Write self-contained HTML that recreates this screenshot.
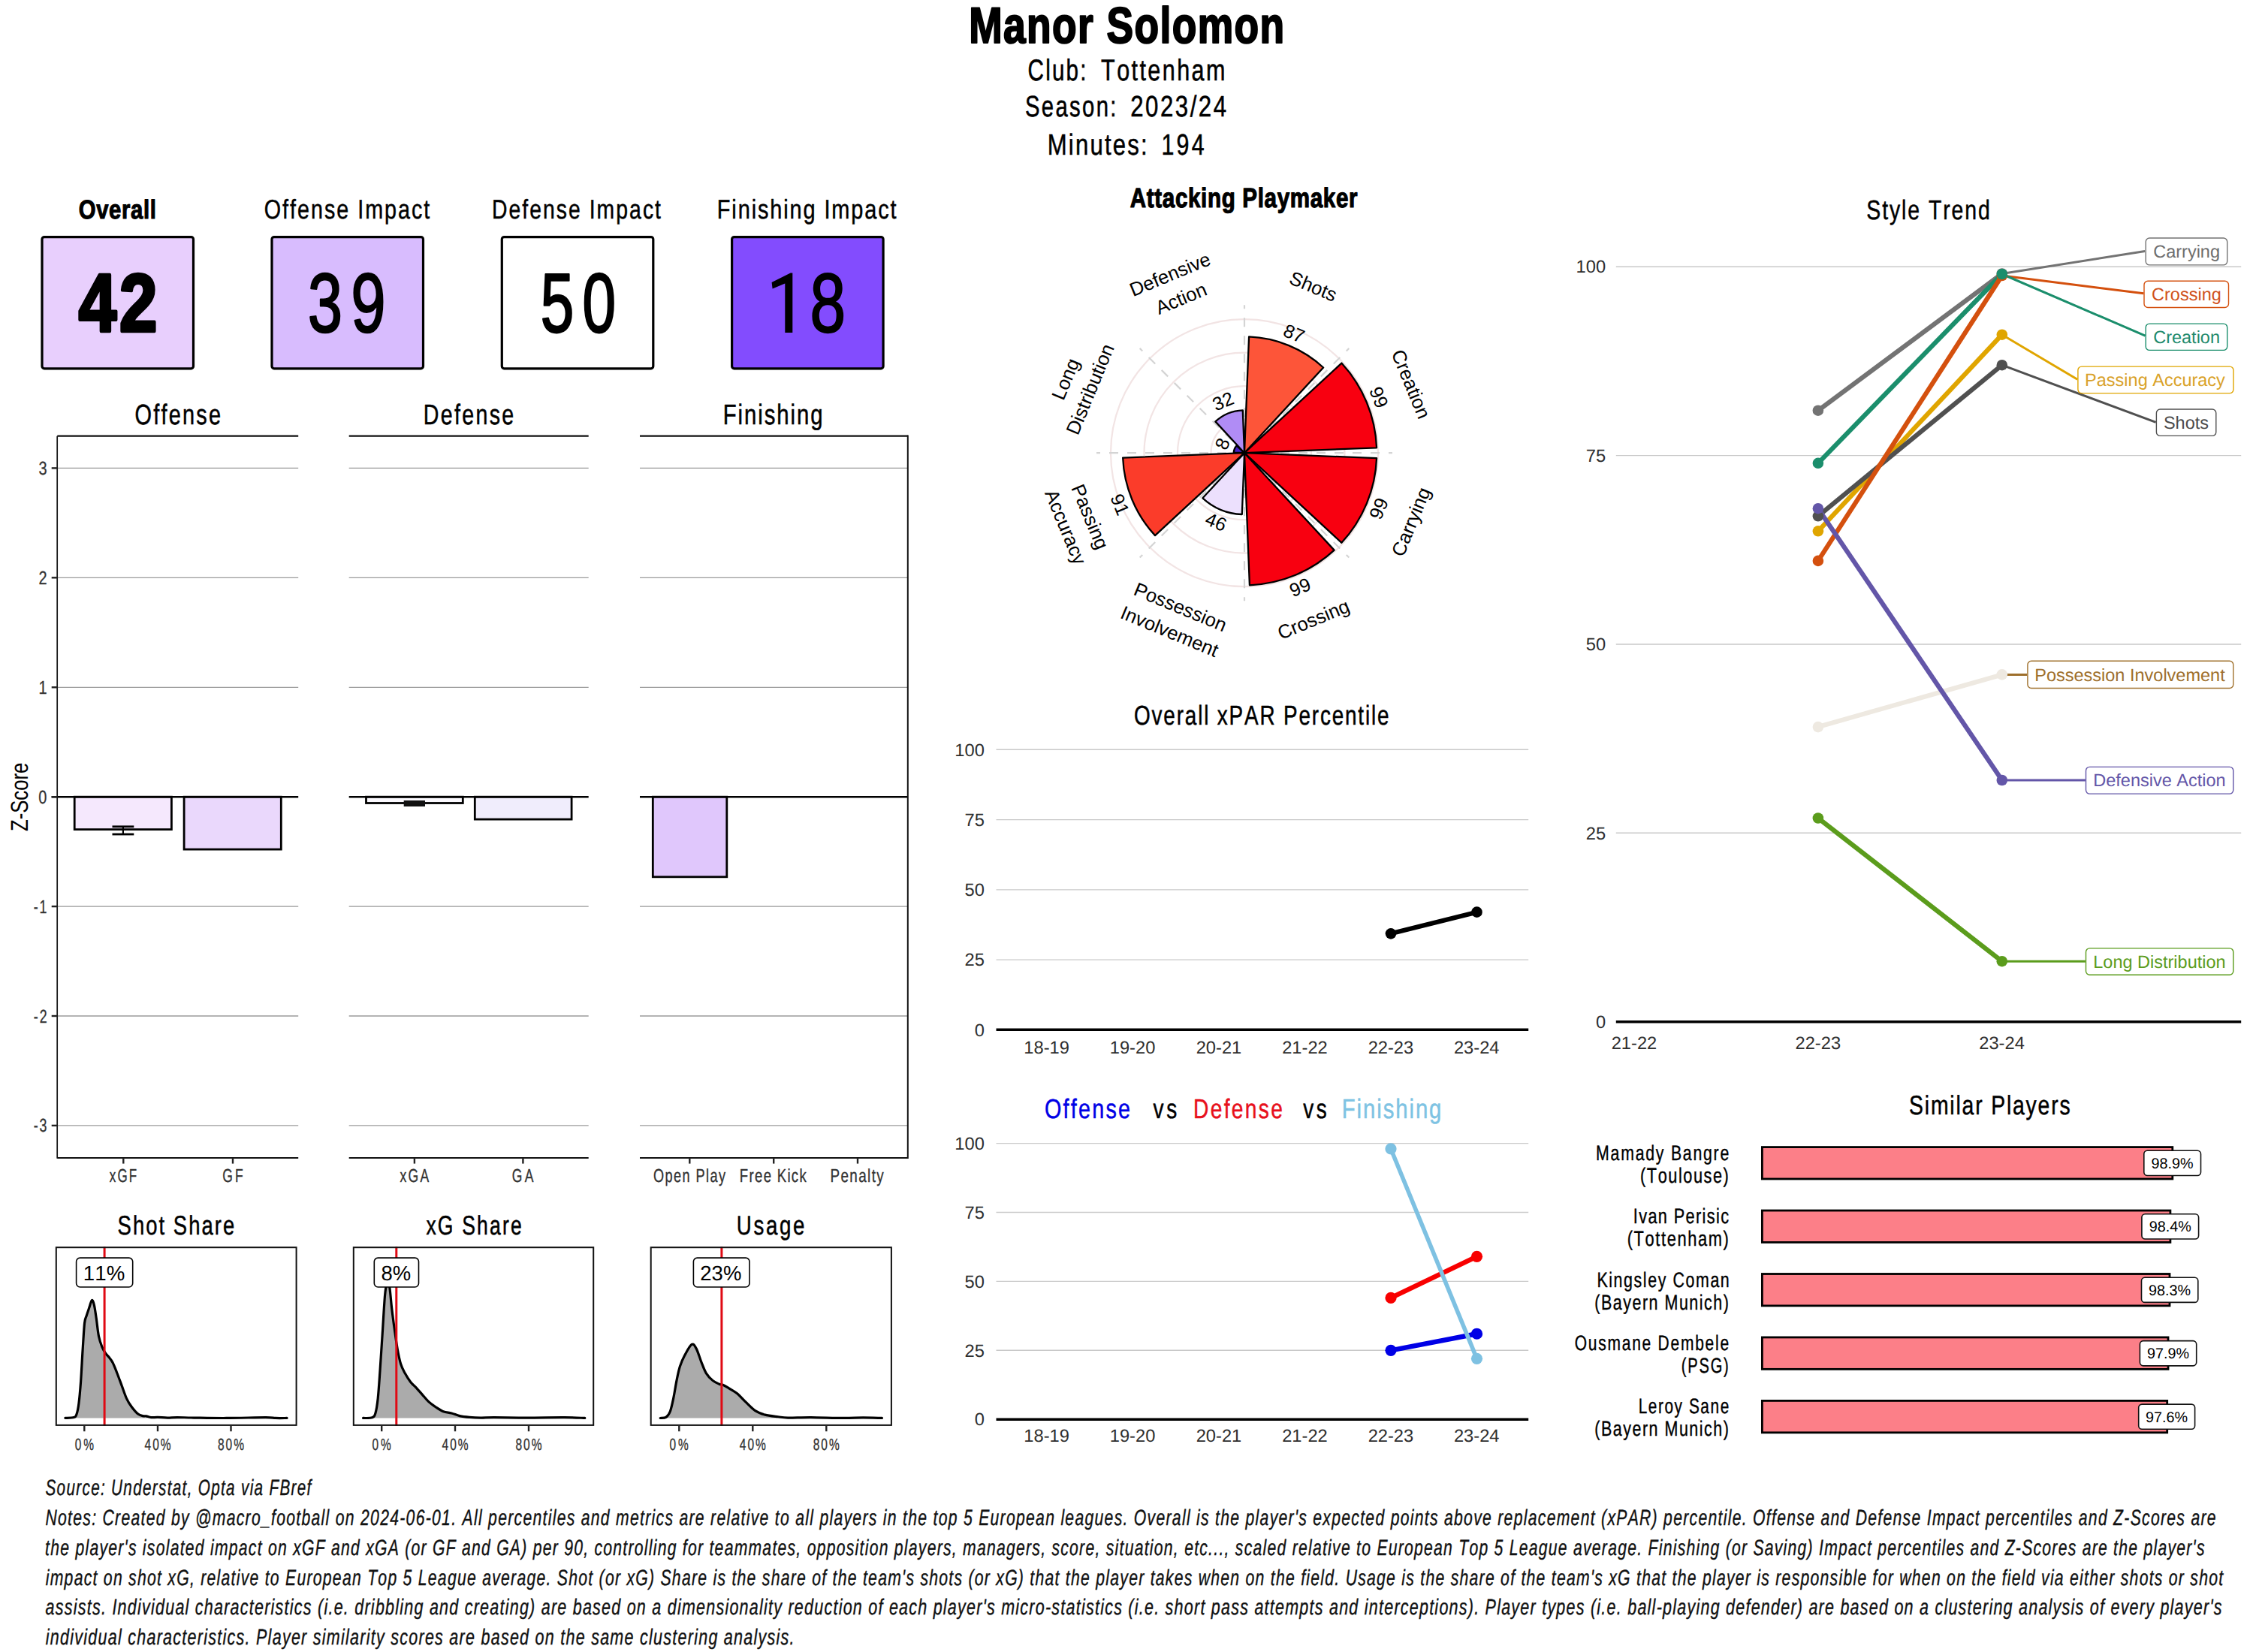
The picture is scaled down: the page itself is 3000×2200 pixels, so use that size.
<!DOCTYPE html>
<html><head><meta charset="utf-8"><style>
html,body{margin:0;padding:0;background:#fff;}
svg{display:block;}
text{font-family:"Liberation Sans",sans-serif;font-kerning:none;white-space:pre;}
</style></head><body>
<svg width="3000" height="2200" viewBox="0 0 3000 2200" text-rendering="geometricPrecision">
<rect x="0" y="0" width="3000" height="2200" fill="#fff"/>
<text transform="scale(0.7912,1)" x="1630.67" y="57.22" font-size="67.49" font-weight="bold" font-style="normal" fill="#000" letter-spacing="1.740"  stroke="#000" stroke-width="2.21" stroke-linejoin="round">Manor Solomon</text>
<text transform="scale(0.7399,1)" x="1849.66" y="106.76" font-size="39.99" font-weight="normal" font-style="normal" fill="#000" letter-spacing="2.989"  stroke="#000" stroke-width="0.57" stroke-linejoin="round">Club:</text>
<text transform="scale(0.7627,1)" x="1922.21" y="106.76" font-size="39.99" font-weight="normal" font-style="normal" fill="#000" letter-spacing="3.198"  stroke="#000" stroke-width="0.56" stroke-linejoin="round">Tottenham</text>
<text transform="scale(0.7454,1)" x="1831.16" y="155.06" font-size="39.27" font-weight="normal" font-style="normal" fill="#000" letter-spacing="3.153"  stroke="#000" stroke-width="0.56" stroke-linejoin="round">Season:</text>
<text transform="scale(0.7949,1)" x="1893.57" y="155.06" font-size="39.27" font-weight="normal" font-style="normal" fill="#000" letter-spacing="3.155"  stroke="#000" stroke-width="0.54" stroke-linejoin="round">2023/24</text>
<text transform="scale(0.7924,1)" x="1760.13" y="205.76" font-size="39.27" font-weight="normal" font-style="normal" fill="#000" letter-spacing="2.759"  stroke="#000" stroke-width="0.54" stroke-linejoin="round">Minutes:</text>
<text transform="scale(0.7744,1)" x="1996.89" y="205.76" font-size="39.27" font-weight="normal" font-style="normal" fill="#000" letter-spacing="4.185"  stroke="#000" stroke-width="0.55" stroke-linejoin="round">194</text>
<rect x="56.00" y="315.60" width="201.50" height="175.20" fill="#E8CFFD" stroke="#000" stroke-width="3.20" rx="3.00" />
<text transform="scale(0.8329,1)" x="125.72" y="291.19" font-size="35.14" font-weight="bold" font-style="normal" fill="#000" letter-spacing="0.800"  stroke="#000" stroke-width="1.12" stroke-linejoin="round">Overall</text>
<text transform="scale(0.8314,1)" x="125.85" y="440.99" font-size="108.99" font-weight="bold" font-style="normal" fill="#000" letter-spacing="4.801"  stroke="#000" stroke-width="4.41" stroke-linejoin="round">42</text>
<rect x="362.00" y="315.60" width="201.50" height="175.20" fill="#D8BCFE" stroke="#000" stroke-width="3.20" rx="3.00" />
<text transform="scale(0.7967,1)" x="441.39" y="291.48" font-size="35.99" font-weight="normal" font-style="normal" fill="#000" letter-spacing="2.539"  stroke="#000" stroke-width="0.49" stroke-linejoin="round">Offense Impact</text>
<text transform="scale(0.7393,1)" x="554.54" y="441.91" font-size="111.66" font-weight="normal" font-style="normal" fill="#000" letter-spacing="15.635"  stroke="#000" stroke-width="2.54" stroke-linejoin="round">39</text>
<rect x="668.30" y="315.60" width="201.50" height="175.20" fill="#FFFFFF" stroke="#000" stroke-width="3.20" rx="3.00" />
<text transform="scale(0.7871,1)" x="832.06" y="291.48" font-size="35.99" font-weight="normal" font-style="normal" fill="#000" letter-spacing="2.610"  stroke="#000" stroke-width="0.50" stroke-linejoin="round">Defense Impact</text>
<text transform="scale(0.7172,1)" x="1003.50" y="441.91" font-size="111.66" font-weight="normal" font-style="normal" fill="#000" letter-spacing="15.731"  stroke="#000" stroke-width="2.58" stroke-linejoin="round">50</text>
<rect x="974.60" y="315.60" width="201.50" height="175.20" fill="#834CFE" stroke="#000" stroke-width="3.20" rx="3.00" />
<text transform="scale(0.8033,1)" x="1188.64" y="291.48" font-size="35.99" font-weight="normal" font-style="normal" fill="#000" letter-spacing="2.353"  stroke="#000" stroke-width="0.49" stroke-linejoin="round">Finishing Impact</text>
<path d="M1055.3,363.4 L1055.3,443 L1045.3,443 L1045.3,377.6 L1028.6,384.4 L1027.6,376 L1052.6,363.4 Z" fill="#000"/>
<text x="1078.48" y="441.91" font-size="111.66" font-weight="normal" font-style="normal" fill="#000" textLength="47.55" lengthAdjust="spacingAndGlyphs"  stroke="#000" stroke-width="2.18" stroke-linejoin="round">8</text>
<line x1="76.30" y1="623.40" x2="397.20" y2="623.40" stroke="#9a9a9a" stroke-width="1.30" />
<line x1="76.30" y1="769.30" x2="397.20" y2="769.30" stroke="#9a9a9a" stroke-width="1.30" />
<line x1="76.30" y1="915.30" x2="397.20" y2="915.30" stroke="#9a9a9a" stroke-width="1.30" />
<line x1="76.30" y1="1207.10" x2="397.20" y2="1207.10" stroke="#9a9a9a" stroke-width="1.30" />
<line x1="76.30" y1="1353.00" x2="397.20" y2="1353.00" stroke="#9a9a9a" stroke-width="1.30" />
<line x1="76.30" y1="1498.90" x2="397.20" y2="1498.90" stroke="#9a9a9a" stroke-width="1.30" />
<line x1="464.70" y1="623.40" x2="783.70" y2="623.40" stroke="#9a9a9a" stroke-width="1.30" />
<line x1="464.70" y1="769.30" x2="783.70" y2="769.30" stroke="#9a9a9a" stroke-width="1.30" />
<line x1="464.70" y1="915.30" x2="783.70" y2="915.30" stroke="#9a9a9a" stroke-width="1.30" />
<line x1="464.70" y1="1207.10" x2="783.70" y2="1207.10" stroke="#9a9a9a" stroke-width="1.30" />
<line x1="464.70" y1="1353.00" x2="783.70" y2="1353.00" stroke="#9a9a9a" stroke-width="1.30" />
<line x1="464.70" y1="1498.90" x2="783.70" y2="1498.90" stroke="#9a9a9a" stroke-width="1.30" />
<line x1="852.00" y1="623.40" x2="1208.80" y2="623.40" stroke="#9a9a9a" stroke-width="1.30" />
<line x1="852.00" y1="769.30" x2="1208.80" y2="769.30" stroke="#9a9a9a" stroke-width="1.30" />
<line x1="852.00" y1="915.30" x2="1208.80" y2="915.30" stroke="#9a9a9a" stroke-width="1.30" />
<line x1="852.00" y1="1207.10" x2="1208.80" y2="1207.10" stroke="#9a9a9a" stroke-width="1.30" />
<line x1="852.00" y1="1353.00" x2="1208.80" y2="1353.00" stroke="#9a9a9a" stroke-width="1.30" />
<line x1="852.00" y1="1498.90" x2="1208.80" y2="1498.90" stroke="#9a9a9a" stroke-width="1.30" />
<line x1="76.30" y1="580.70" x2="397.20" y2="580.70" stroke="#111" stroke-width="2.20" />
<line x1="76.30" y1="1542.00" x2="397.20" y2="1542.00" stroke="#111" stroke-width="1.90" />
<text transform="scale(0.7632,1)" x="235.13" y="565.07" font-size="37.85" font-weight="normal" font-style="normal" fill="#000" letter-spacing="2.933"  stroke="#000" stroke-width="0.53" stroke-linejoin="round">Offense</text>
<line x1="464.70" y1="580.70" x2="783.70" y2="580.70" stroke="#111" stroke-width="2.20" />
<line x1="464.70" y1="1542.00" x2="783.70" y2="1542.00" stroke="#111" stroke-width="1.90" />
<text transform="scale(0.7550,1)" x="746.84" y="565.07" font-size="37.85" font-weight="normal" font-style="normal" fill="#000" letter-spacing="3.095"  stroke="#000" stroke-width="0.53" stroke-linejoin="round">Defense</text>
<line x1="852.00" y1="580.70" x2="1208.80" y2="580.70" stroke="#111" stroke-width="2.20" />
<line x1="852.00" y1="1542.00" x2="1208.80" y2="1542.00" stroke="#111" stroke-width="1.90" />
<text transform="scale(0.7758,1)" x="1240.94" y="565.07" font-size="37.85" font-weight="normal" font-style="normal" fill="#000" letter-spacing="2.487"  stroke="#000" stroke-width="0.52" stroke-linejoin="round">Finishing</text>
<rect x="99.20" y="1061.20" width="129.20" height="43.40" fill="#F5E8FD" stroke="#000" stroke-width="2.80" rx="0.00" />
<rect x="245.10" y="1061.20" width="129.20" height="69.90" fill="#EAD8FC" stroke="#000" stroke-width="2.80" rx="0.00" />
<rect x="487.50" y="1061.20" width="128.80" height="8.30" fill="#FBF9FE" stroke="#000" stroke-width="2.80" rx="0.00" />
<rect x="632.30" y="1061.20" width="128.80" height="29.90" fill="#F0EDFC" stroke="#000" stroke-width="2.80" rx="0.00" />
<rect x="869.30" y="1061.20" width="98.50" height="106.60" fill="#E0C7FC" stroke="#000" stroke-width="2.80" rx="0.00" />
<line x1="149.50" y1="1100.80" x2="178.30" y2="1100.80" stroke="#000" stroke-width="2.80" />
<line x1="149.50" y1="1111.00" x2="178.30" y2="1111.00" stroke="#000" stroke-width="2.80" />
<line x1="163.90" y1="1100.80" x2="163.90" y2="1111.00" stroke="#000" stroke-width="2.20" />
<rect x="537.70" y="1066.00" width="28.30" height="8.00" fill="#111" stroke="none" stroke-width="0.00" rx="0.00" />
<line x1="68.60" y1="1061.20" x2="397.20" y2="1061.20" stroke="#000" stroke-width="2.60" />
<line x1="464.70" y1="1061.20" x2="783.70" y2="1061.20" stroke="#000" stroke-width="2.60" />
<line x1="852.00" y1="1061.20" x2="1208.80" y2="1061.20" stroke="#000" stroke-width="2.60" />
<line x1="76.20" y1="580.70" x2="76.20" y2="1542.80" stroke="#111" stroke-width="1.70" />
<line x1="1208.80" y1="579.60" x2="1208.80" y2="1543.10" stroke="#111" stroke-width="2.00" />
<line x1="68.70" y1="623.40" x2="76.30" y2="623.40" stroke="#222" stroke-width="2.40" />
<text x="51.41" y="631.95" font-size="24.71" font-weight="normal" font-style="normal" fill="#333333" textLength="11.12" lengthAdjust="spacingAndGlyphs"  stroke="#333333" stroke-width="0.30" stroke-linejoin="round">3</text>
<line x1="68.70" y1="769.30" x2="76.30" y2="769.30" stroke="#222" stroke-width="2.40" />
<text x="51.55" y="777.85" font-size="24.71" font-weight="normal" font-style="normal" fill="#333333" textLength="11.10" lengthAdjust="spacingAndGlyphs"  stroke="#333333" stroke-width="0.30" stroke-linejoin="round">2</text>
<line x1="68.70" y1="915.30" x2="76.30" y2="915.30" stroke="#222" stroke-width="2.40" />
<text x="51.54" y="923.85" font-size="24.71" font-weight="normal" font-style="normal" fill="#333333" textLength="11.08" lengthAdjust="spacingAndGlyphs"  stroke="#333333" stroke-width="0.30" stroke-linejoin="round">1</text>
<line x1="68.70" y1="1061.20" x2="76.30" y2="1061.20" stroke="#222" stroke-width="2.40" />
<text x="51.31" y="1069.75" font-size="24.71" font-weight="normal" font-style="normal" fill="#333333" textLength="11.12" lengthAdjust="spacingAndGlyphs"  stroke="#333333" stroke-width="0.30" stroke-linejoin="round">0</text>
<line x1="68.70" y1="1207.10" x2="76.30" y2="1207.10" stroke="#222" stroke-width="2.40" />
<text transform="scale(0.7209,1)" x="62.07" y="1215.65" font-size="24.71" font-weight="normal" font-style="normal" fill="#333333" letter-spacing="2.682"  stroke="#333333" stroke-width="0.35" stroke-linejoin="round">-1</text>
<line x1="68.70" y1="1353.00" x2="76.30" y2="1353.00" stroke="#222" stroke-width="2.40" />
<text transform="scale(0.7209,1)" x="62.11" y="1361.55" font-size="24.71" font-weight="normal" font-style="normal" fill="#333333" letter-spacing="2.677"  stroke="#333333" stroke-width="0.35" stroke-linejoin="round">-2</text>
<line x1="68.70" y1="1498.90" x2="76.30" y2="1498.90" stroke="#222" stroke-width="2.40" />
<text transform="scale(0.7210,1)" x="61.92" y="1507.45" font-size="24.71" font-weight="normal" font-style="normal" fill="#333333" letter-spacing="2.698"  stroke="#333333" stroke-width="0.35" stroke-linejoin="round">-3</text>
<line x1="164.30" y1="1542.00" x2="164.30" y2="1549.60" stroke="#222" stroke-width="2.40" />
<line x1="310.00" y1="1542.00" x2="310.00" y2="1549.60" stroke="#222" stroke-width="2.40" />
<line x1="551.90" y1="1542.00" x2="551.90" y2="1549.60" stroke="#222" stroke-width="2.40" />
<line x1="696.40" y1="1542.00" x2="696.40" y2="1549.60" stroke="#222" stroke-width="2.40" />
<line x1="918.30" y1="1542.00" x2="918.30" y2="1549.60" stroke="#222" stroke-width="2.40" />
<line x1="1030.20" y1="1542.00" x2="1030.20" y2="1549.60" stroke="#222" stroke-width="2.40" />
<line x1="1142.00" y1="1542.00" x2="1142.00" y2="1549.60" stroke="#222" stroke-width="2.40" />
<text transform="scale(0.6881,1)" x="211.83" y="1574.05" font-size="24.71" font-weight="normal" font-style="normal" fill="#333333" letter-spacing="3.096"  stroke="#333333" stroke-width="0.36" stroke-linejoin="round">xGF</text>
<text transform="scale(0.7082,1)" x="418.26" y="1574.05" font-size="24.71" font-weight="normal" font-style="normal" fill="#333333" letter-spacing="4.375"  stroke="#333333" stroke-width="0.36" stroke-linejoin="round">GF</text>
<text transform="scale(0.7109,1)" x="748.95" y="1574.05" font-size="24.71" font-weight="normal" font-style="normal" fill="#333333" letter-spacing="3.254"  stroke="#333333" stroke-width="0.36" stroke-linejoin="round">xGA</text>
<text transform="scale(0.7088,1)" x="961.78" y="1574.05" font-size="24.71" font-weight="normal" font-style="normal" fill="#333333" letter-spacing="4.692"  stroke="#333333" stroke-width="0.36" stroke-linejoin="round">GA</text>
<text transform="scale(0.7338,1)" x="1185.68" y="1574.05" font-size="24.71" font-weight="normal" font-style="normal" fill="#333333" letter-spacing="1.946"  stroke="#333333" stroke-width="0.35" stroke-linejoin="round">Open Play</text>
<text transform="scale(0.7514,1)" x="1310.70" y="1574.05" font-size="24.71" font-weight="normal" font-style="normal" fill="#333333" letter-spacing="1.745"  stroke="#333333" stroke-width="0.35" stroke-linejoin="round">Free Kick</text>
<text transform="scale(0.7634,1)" x="1448.08" y="1574.05" font-size="24.71" font-weight="normal" font-style="normal" fill="#333333" letter-spacing="1.826"  stroke="#333333" stroke-width="0.34" stroke-linejoin="round">Penalty</text>
<g transform="translate(37.3,1061.5) rotate(-90)">
<text x="-45.57" y="0" font-size="32.41" textLength="91.46" lengthAdjust="spacingAndGlyphs">Z-Score</text>
</g>
<path d="M86.84,1888.47 C88.77,1888.33 95.85,1888.51 98.39,1887.60 C100.93,1886.70 101.00,1886.15 102.09,1883.03 C103.18,1879.91 104.02,1875.95 104.92,1868.87 C105.83,1861.79 106.67,1852.53 107.54,1840.54 C108.41,1828.56 109.32,1810.04 110.15,1796.97 C110.99,1783.90 111.71,1769.56 112.55,1762.11 C113.38,1754.67 114.18,1755.58 115.16,1752.31 C116.14,1749.04 117.23,1745.95 118.43,1742.51 C119.63,1739.06 121.19,1732.34 122.35,1731.61 C123.51,1730.89 124.42,1734.15 125.40,1738.15 C126.38,1742.14 127.22,1748.68 128.24,1755.58 C129.25,1762.48 130.23,1773.19 131.50,1779.54 C132.77,1785.90 134.41,1790.00 135.86,1793.70 C137.31,1797.41 138.77,1799.59 140.22,1801.76 C141.67,1803.94 142.94,1804.67 144.58,1806.78 C146.21,1808.88 148.21,1810.95 150.02,1814.40 C151.84,1817.85 153.47,1822.39 155.47,1827.47 C157.47,1832.56 159.83,1839.09 162.00,1844.90 C164.18,1850.71 166.36,1857.61 168.54,1862.33 C170.72,1867.05 172.53,1869.77 175.08,1873.22 C177.62,1876.67 181.25,1880.96 183.79,1883.03 C186.33,1885.10 188.51,1885.17 190.33,1885.64 C192.14,1886.11 192.87,1885.53 194.68,1885.86 C196.50,1886.19 198.68,1887.35 201.22,1887.60 C203.76,1887.86 206.30,1887.31 209.93,1887.39 C213.57,1887.46 218.65,1888.00 223.01,1888.04 C227.36,1888.08 230.27,1887.60 236.08,1887.60 C241.89,1887.60 246.97,1887.89 257.86,1888.04 C268.76,1888.18 285.46,1888.55 301.44,1888.47 C317.41,1888.40 342.83,1887.60 353.73,1887.60 C364.62,1887.60 362.08,1888.33 366.80,1888.47 C371.52,1888.62 379.51,1888.47 382.05,1888.47 L382.05,1888.50 L86.84,1888.50 Z" fill="#ABABAB" stroke="none"/>
<path d="M86.84,1888.47 C88.77,1888.33 95.85,1888.51 98.39,1887.60 C100.93,1886.70 101.00,1886.15 102.09,1883.03 C103.18,1879.91 104.02,1875.95 104.92,1868.87 C105.83,1861.79 106.67,1852.53 107.54,1840.54 C108.41,1828.56 109.32,1810.04 110.15,1796.97 C110.99,1783.90 111.71,1769.56 112.55,1762.11 C113.38,1754.67 114.18,1755.58 115.16,1752.31 C116.14,1749.04 117.23,1745.95 118.43,1742.51 C119.63,1739.06 121.19,1732.34 122.35,1731.61 C123.51,1730.89 124.42,1734.15 125.40,1738.15 C126.38,1742.14 127.22,1748.68 128.24,1755.58 C129.25,1762.48 130.23,1773.19 131.50,1779.54 C132.77,1785.90 134.41,1790.00 135.86,1793.70 C137.31,1797.41 138.77,1799.59 140.22,1801.76 C141.67,1803.94 142.94,1804.67 144.58,1806.78 C146.21,1808.88 148.21,1810.95 150.02,1814.40 C151.84,1817.85 153.47,1822.39 155.47,1827.47 C157.47,1832.56 159.83,1839.09 162.00,1844.90 C164.18,1850.71 166.36,1857.61 168.54,1862.33 C170.72,1867.05 172.53,1869.77 175.08,1873.22 C177.62,1876.67 181.25,1880.96 183.79,1883.03 C186.33,1885.10 188.51,1885.17 190.33,1885.64 C192.14,1886.11 192.87,1885.53 194.68,1885.86 C196.50,1886.19 198.68,1887.35 201.22,1887.60 C203.76,1887.86 206.30,1887.31 209.93,1887.39 C213.57,1887.46 218.65,1888.00 223.01,1888.04 C227.36,1888.08 230.27,1887.60 236.08,1887.60 C241.89,1887.60 246.97,1887.89 257.86,1888.04 C268.76,1888.18 285.46,1888.55 301.44,1888.47 C317.41,1888.40 342.83,1887.60 353.73,1887.60 C364.62,1887.60 362.08,1888.33 366.80,1888.47 C371.52,1888.62 379.51,1888.47 382.05,1888.47" fill="none" stroke="#000" stroke-width="3.2" stroke-linejoin="round" stroke-linecap="round"/>
<line x1="139.10" y1="1660.20" x2="139.10" y2="1898.90" stroke="#E00A14" stroke-width="3.00" />
<rect x="101.60" y="1675.10" width="75.10" height="38.90" fill="#fff" stroke="#000" stroke-width="1.60" rx="5.00" />
<text x="110.89" y="1705.00" font-size="27.62" font-weight="normal" font-style="normal" fill="#000" textLength="55.39" lengthAdjust="spacingAndGlyphs" >11%</text>
<rect x="74.80" y="1661.20" width="319.80" height="236.70" fill="none" stroke="#111" stroke-width="2.00" rx="0.00" />
<text transform="scale(0.7683,1)" x="203.79" y="1644.28" font-size="35.70" font-weight="normal" font-style="normal" fill="#000" letter-spacing="2.658"  stroke="#000" stroke-width="0.50" stroke-linejoin="round">Shot Share</text>
<line x1="112.30" y1="1898.90" x2="112.30" y2="1906.20" stroke="#222" stroke-width="2.40" />
<text transform="scale(0.7092,1)" x="140.51" y="1930.85" font-size="21.80" font-weight="normal" font-style="normal" fill="#333333" letter-spacing="4.075"  stroke="#333333" stroke-width="0.36" stroke-linejoin="round">0%</text>
<line x1="210.00" y1="1898.90" x2="210.00" y2="1906.20" stroke="#222" stroke-width="2.40" />
<text transform="scale(0.7118,1)" x="270.44" y="1930.85" font-size="21.80" font-weight="normal" font-style="normal" fill="#333333" letter-spacing="2.888"  stroke="#333333" stroke-width="0.36" stroke-linejoin="round">40%</text>
<line x1="307.50" y1="1898.90" x2="307.50" y2="1906.20" stroke="#222" stroke-width="2.40" />
<text transform="scale(0.7118,1)" x="407.25" y="1930.85" font-size="21.80" font-weight="normal" font-style="normal" fill="#333333" letter-spacing="2.858"  stroke="#333333" stroke-width="0.36" stroke-linejoin="round">80%</text>
<path d="M483.57,1888.47 C485.57,1888.37 492.83,1888.91 495.56,1887.82 C498.28,1886.73 498.64,1886.19 499.91,1881.94 C501.18,1877.69 502.16,1871.77 503.18,1862.33 C504.20,1852.89 505.00,1839.82 506.01,1825.29 C507.03,1810.77 508.19,1791.89 509.28,1775.19 C510.37,1758.48 511.57,1735.97 512.55,1725.08 C513.53,1714.18 514.18,1712.00 515.16,1709.83 C516.14,1707.65 517.34,1706.56 518.43,1712.00 C519.52,1717.45 520.54,1732.70 521.70,1742.51 C522.86,1752.31 524.13,1761.75 525.40,1770.83 C526.67,1779.91 527.94,1789.35 529.32,1796.97 C530.70,1804.60 532.05,1811.31 533.68,1816.58 C535.32,1821.84 536.95,1824.57 539.13,1828.56 C541.31,1832.56 544.39,1837.46 546.75,1840.54 C549.11,1843.63 550.75,1844.36 553.29,1847.08 C555.83,1849.80 559.10,1853.62 562.00,1856.88 C564.91,1860.15 567.81,1863.97 570.72,1866.69 C573.62,1869.41 576.17,1871.05 579.43,1873.22 C582.70,1875.40 586.70,1878.31 590.33,1879.76 C593.96,1881.21 597.59,1880.96 601.22,1881.94 C604.85,1882.92 608.12,1884.73 612.11,1885.64 C616.11,1886.55 620.46,1886.99 625.19,1887.39 C629.91,1887.79 634.99,1888.00 640.44,1888.04 C645.88,1888.08 647.70,1887.60 657.86,1887.60 C668.03,1887.60 685.82,1888.04 701.44,1888.04 C717.05,1888.04 738.66,1887.53 751.55,1887.60 C764.44,1887.68 774.24,1888.33 778.78,1888.47 L778.78,1888.50 L483.57,1888.50 Z" fill="#ABABAB" stroke="none"/>
<path d="M483.57,1888.47 C485.57,1888.37 492.83,1888.91 495.56,1887.82 C498.28,1886.73 498.64,1886.19 499.91,1881.94 C501.18,1877.69 502.16,1871.77 503.18,1862.33 C504.20,1852.89 505.00,1839.82 506.01,1825.29 C507.03,1810.77 508.19,1791.89 509.28,1775.19 C510.37,1758.48 511.57,1735.97 512.55,1725.08 C513.53,1714.18 514.18,1712.00 515.16,1709.83 C516.14,1707.65 517.34,1706.56 518.43,1712.00 C519.52,1717.45 520.54,1732.70 521.70,1742.51 C522.86,1752.31 524.13,1761.75 525.40,1770.83 C526.67,1779.91 527.94,1789.35 529.32,1796.97 C530.70,1804.60 532.05,1811.31 533.68,1816.58 C535.32,1821.84 536.95,1824.57 539.13,1828.56 C541.31,1832.56 544.39,1837.46 546.75,1840.54 C549.11,1843.63 550.75,1844.36 553.29,1847.08 C555.83,1849.80 559.10,1853.62 562.00,1856.88 C564.91,1860.15 567.81,1863.97 570.72,1866.69 C573.62,1869.41 576.17,1871.05 579.43,1873.22 C582.70,1875.40 586.70,1878.31 590.33,1879.76 C593.96,1881.21 597.59,1880.96 601.22,1881.94 C604.85,1882.92 608.12,1884.73 612.11,1885.64 C616.11,1886.55 620.46,1886.99 625.19,1887.39 C629.91,1887.79 634.99,1888.00 640.44,1888.04 C645.88,1888.08 647.70,1887.60 657.86,1887.60 C668.03,1887.60 685.82,1888.04 701.44,1888.04 C717.05,1888.04 738.66,1887.53 751.55,1887.60 C764.44,1887.68 774.24,1888.33 778.78,1888.47" fill="none" stroke="#000" stroke-width="3.2" stroke-linejoin="round" stroke-linecap="round"/>
<line x1="527.80" y1="1660.20" x2="527.80" y2="1898.90" stroke="#E00A14" stroke-width="3.00" />
<rect x="498.30" y="1675.10" width="59.20" height="38.90" fill="#fff" stroke="#000" stroke-width="1.60" rx="5.00" />
<text x="507.41" y="1705.00" font-size="27.62" font-weight="normal" font-style="normal" fill="#000" textLength="39.67" lengthAdjust="spacingAndGlyphs" >8%</text>
<rect x="470.80" y="1661.20" width="319.40" height="236.70" fill="none" stroke="#111" stroke-width="2.00" rx="0.00" />
<text transform="scale(0.7442,1)" x="762.45" y="1644.28" font-size="35.70" font-weight="normal" font-style="normal" fill="#000" letter-spacing="2.899"  stroke="#000" stroke-width="0.51" stroke-linejoin="round">xG Share</text>
<line x1="508.20" y1="1898.90" x2="508.20" y2="1906.20" stroke="#222" stroke-width="2.40" />
<text transform="scale(0.7092,1)" x="698.71" y="1930.85" font-size="21.80" font-weight="normal" font-style="normal" fill="#333333" letter-spacing="4.075"  stroke="#333333" stroke-width="0.36" stroke-linejoin="round">0%</text>
<line x1="606.00" y1="1898.90" x2="606.00" y2="1906.20" stroke="#222" stroke-width="2.40" />
<text transform="scale(0.7118,1)" x="826.74" y="1930.85" font-size="21.80" font-weight="normal" font-style="normal" fill="#333333" letter-spacing="2.888"  stroke="#333333" stroke-width="0.36" stroke-linejoin="round">40%</text>
<line x1="704.00" y1="1898.90" x2="704.00" y2="1906.20" stroke="#222" stroke-width="2.40" />
<text transform="scale(0.7118,1)" x="964.31" y="1930.85" font-size="21.80" font-weight="normal" font-style="normal" fill="#333333" letter-spacing="2.858"  stroke="#333333" stroke-width="0.36" stroke-linejoin="round">80%</text>
<path d="M879.22,1888.47 C880.49,1888.29 884.66,1888.84 886.84,1887.39 C889.02,1885.93 890.65,1883.94 892.29,1879.76 C893.92,1875.58 895.19,1869.23 896.64,1862.33 C898.10,1855.43 899.55,1845.45 901.00,1838.37 C902.45,1831.29 903.54,1825.48 905.36,1819.85 C907.18,1814.22 909.28,1809.50 911.90,1804.60 C914.51,1799.69 918.50,1791.89 921.05,1790.44 C923.59,1788.98 925.04,1792.07 927.15,1795.88 C929.25,1799.69 931.50,1807.86 933.68,1813.31 C935.86,1818.76 937.68,1824.39 940.22,1828.56 C942.76,1832.74 946.03,1835.93 948.93,1838.37 C951.84,1840.80 955.29,1842.14 957.65,1843.16 C960.01,1844.18 960.92,1843.52 963.09,1844.47 C965.27,1845.41 967.63,1846.94 970.72,1848.82 C973.81,1850.71 977.98,1852.82 981.61,1855.80 C985.24,1858.77 988.51,1862.88 992.51,1866.69 C996.50,1870.50 1001.22,1875.77 1005.58,1878.67 C1009.93,1881.58 1013.57,1882.77 1018.65,1884.12 C1023.73,1885.46 1030.99,1886.08 1036.08,1886.73 C1041.16,1887.39 1041.89,1887.89 1049.15,1888.04 C1056.41,1888.18 1067.31,1887.53 1079.65,1887.60 C1092.00,1887.68 1111.60,1888.44 1123.22,1888.47 C1134.84,1888.51 1140.84,1887.82 1149.37,1887.82 C1157.90,1887.82 1170.25,1888.37 1174.42,1888.47 L1174.42,1888.50 L879.22,1888.50 Z" fill="#ABABAB" stroke="none"/>
<path d="M879.22,1888.47 C880.49,1888.29 884.66,1888.84 886.84,1887.39 C889.02,1885.93 890.65,1883.94 892.29,1879.76 C893.92,1875.58 895.19,1869.23 896.64,1862.33 C898.10,1855.43 899.55,1845.45 901.00,1838.37 C902.45,1831.29 903.54,1825.48 905.36,1819.85 C907.18,1814.22 909.28,1809.50 911.90,1804.60 C914.51,1799.69 918.50,1791.89 921.05,1790.44 C923.59,1788.98 925.04,1792.07 927.15,1795.88 C929.25,1799.69 931.50,1807.86 933.68,1813.31 C935.86,1818.76 937.68,1824.39 940.22,1828.56 C942.76,1832.74 946.03,1835.93 948.93,1838.37 C951.84,1840.80 955.29,1842.14 957.65,1843.16 C960.01,1844.18 960.92,1843.52 963.09,1844.47 C965.27,1845.41 967.63,1846.94 970.72,1848.82 C973.81,1850.71 977.98,1852.82 981.61,1855.80 C985.24,1858.77 988.51,1862.88 992.51,1866.69 C996.50,1870.50 1001.22,1875.77 1005.58,1878.67 C1009.93,1881.58 1013.57,1882.77 1018.65,1884.12 C1023.73,1885.46 1030.99,1886.08 1036.08,1886.73 C1041.16,1887.39 1041.89,1887.89 1049.15,1888.04 C1056.41,1888.18 1067.31,1887.53 1079.65,1887.60 C1092.00,1887.68 1111.60,1888.44 1123.22,1888.47 C1134.84,1888.51 1140.84,1887.82 1149.37,1887.82 C1157.90,1887.82 1170.25,1888.37 1174.42,1888.47" fill="none" stroke="#000" stroke-width="3.2" stroke-linejoin="round" stroke-linecap="round"/>
<line x1="960.90" y1="1660.20" x2="960.90" y2="1898.90" stroke="#E00A14" stroke-width="3.00" />
<rect x="923.40" y="1675.10" width="74.60" height="38.90" fill="#fff" stroke="#000" stroke-width="1.60" rx="5.00" />
<text x="932.32" y="1705.00" font-size="27.62" font-weight="normal" font-style="normal" fill="#000" textLength="55.06" lengthAdjust="spacingAndGlyphs" >23%</text>
<rect x="866.70" y="1661.20" width="320.20" height="236.70" fill="none" stroke="#111" stroke-width="2.00" rx="0.00" />
<text transform="scale(0.7776,1)" x="1261.25" y="1644.28" font-size="35.70" font-weight="normal" font-style="normal" fill="#000" letter-spacing="3.370"  stroke="#000" stroke-width="0.49" stroke-linejoin="round">Usage</text>
<line x1="904.30" y1="1898.90" x2="904.30" y2="1906.20" stroke="#222" stroke-width="2.40" />
<text transform="scale(0.7092,1)" x="1257.19" y="1930.85" font-size="21.80" font-weight="normal" font-style="normal" fill="#333333" letter-spacing="4.075"  stroke="#333333" stroke-width="0.36" stroke-linejoin="round">0%</text>
<line x1="1002.30" y1="1898.90" x2="1002.30" y2="1906.20" stroke="#222" stroke-width="2.40" />
<text transform="scale(0.7118,1)" x="1383.46" y="1930.85" font-size="21.80" font-weight="normal" font-style="normal" fill="#333333" letter-spacing="2.888"  stroke="#333333" stroke-width="0.36" stroke-linejoin="round">40%</text>
<line x1="1100.30" y1="1898.90" x2="1100.30" y2="1906.20" stroke="#222" stroke-width="2.40" />
<text transform="scale(0.7118,1)" x="1521.08" y="1930.85" font-size="21.80" font-weight="normal" font-style="normal" fill="#333333" letter-spacing="2.858"  stroke="#333333" stroke-width="0.36" stroke-linejoin="round">80%</text>
<text transform="scale(0.8093,1)" x="1859.35" y="276.27" font-size="36.53" font-weight="bold" font-style="normal" fill="#000" letter-spacing="0.829"  stroke="#000" stroke-width="1.19" stroke-linejoin="round">Attacking Playmaker</text>
<circle cx="1657.00" cy="603.20" r="44.50" fill="none" stroke="#F2E4E4" stroke-width="2.2"/>
<circle cx="1657.00" cy="603.20" r="89.00" fill="none" stroke="#F2E4E4" stroke-width="2.2"/>
<circle cx="1657.00" cy="603.20" r="133.50" fill="none" stroke="#F2E4E4" stroke-width="2.2"/>
<circle cx="1657.00" cy="603.20" r="178.00" fill="none" stroke="#F2E4E4" stroke-width="2.2"/>
<line x1="1657.00" y1="603.20" x2="1657.00" y2="406.20" stroke="#D4D4D4" stroke-width="2.2" stroke-dasharray="12,12"/>
<line x1="1657.00" y1="603.20" x2="1796.30" y2="463.90" stroke="#D4D4D4" stroke-width="2.2" stroke-dasharray="12,12"/>
<line x1="1657.00" y1="603.20" x2="1854.00" y2="603.20" stroke="#D4D4D4" stroke-width="2.2" stroke-dasharray="12,12"/>
<line x1="1657.00" y1="603.20" x2="1796.30" y2="742.50" stroke="#D4D4D4" stroke-width="2.2" stroke-dasharray="12,12"/>
<line x1="1657.00" y1="603.20" x2="1657.00" y2="800.20" stroke="#D4D4D4" stroke-width="2.2" stroke-dasharray="12,12"/>
<line x1="1657.00" y1="603.20" x2="1517.70" y2="742.50" stroke="#D4D4D4" stroke-width="2.2" stroke-dasharray="12,12"/>
<line x1="1657.00" y1="603.20" x2="1460.00" y2="603.20" stroke="#D4D4D4" stroke-width="2.2" stroke-dasharray="12,12"/>
<line x1="1657.00" y1="603.20" x2="1517.70" y2="463.90" stroke="#D4D4D4" stroke-width="2.2" stroke-dasharray="12,12"/>
<path d="M1657.00,603.20 L1663.08,448.46 A154.86,154.86 0 0 1 1762.12,489.48 Z" fill="#FD5539" stroke="#000" stroke-width="2.3" stroke-linejoin="round"/>
<path d="M1657.00,603.20 L1786.40,483.58 A176.22,176.22 0 0 1 1833.08,596.28 Z" fill="#F80010" stroke="#000" stroke-width="2.3" stroke-linejoin="round"/>
<path d="M1657.00,603.20 L1833.08,610.12 A176.22,176.22 0 0 1 1786.40,722.82 Z" fill="#F80010" stroke="#000" stroke-width="2.3" stroke-linejoin="round"/>
<path d="M1657.00,603.20 L1776.62,732.60 A176.22,176.22 0 0 1 1663.92,779.28 Z" fill="#F80010" stroke="#000" stroke-width="2.3" stroke-linejoin="round"/>
<path d="M1657.00,603.20 L1653.79,685.02 A81.88,81.88 0 0 1 1601.42,663.33 Z" fill="#ECE0FD" stroke="#000" stroke-width="2.3" stroke-linejoin="round"/>
<path d="M1657.00,603.20 L1538.05,713.15 A161.98,161.98 0 0 1 1495.14,609.56 Z" fill="#FB3C2A" stroke="#000" stroke-width="2.3" stroke-linejoin="round"/>
<path d="M1657.00,603.20 L1642.77,602.64 A14.24,14.24 0 0 1 1646.54,593.53 Z" fill="#4A22C2" stroke="#000" stroke-width="2.3" stroke-linejoin="round"/>
<path d="M1657.00,603.20 L1618.34,561.37 A56.96,56.96 0 0 1 1654.76,546.28 Z" fill="#B08CF5" stroke="#000" stroke-width="2.3" stroke-linejoin="round"/>
<g transform="translate(1722.96,443.96) rotate(22.50)">
<text x="-13.82" y="8.60" font-size="25.00" fill="#000" textLength="27.81" lengthAdjust="spacingAndGlyphs">87</text>
</g>
<g transform="translate(1748.84,381.47) rotate(22.50)">
<text x="-32.85" y="8.81" font-size="25.60" fill="#000" textLength="65.46" lengthAdjust="spacingAndGlyphs">Shots</text>
</g>
<g transform="translate(1835.97,529.07) rotate(67.50)">
<text x="-13.90" y="8.60" font-size="25.00" fill="#000" textLength="27.81" lengthAdjust="spacingAndGlyphs">99</text>
</g>
<g transform="translate(1878.73,511.36) rotate(67.50)">
<text x="-48.20" y="8.81" font-size="25.60" fill="#000" textLength="96.76" lengthAdjust="spacingAndGlyphs">Creation</text>
</g>
<g transform="translate(1835.97,677.33) rotate(-67.50)">
<text x="-13.90" y="8.60" font-size="25.00" fill="#000" textLength="27.81" lengthAdjust="spacingAndGlyphs">99</text>
</g>
<g transform="translate(1878.73,695.04) rotate(-67.50)">
<text x="-48.19" y="8.81" font-size="25.60" fill="#000" textLength="96.74" lengthAdjust="spacingAndGlyphs">Carrying</text>
</g>
<g transform="translate(1731.13,782.17) rotate(-22.50)">
<text x="-13.90" y="8.60" font-size="25.00" fill="#000" textLength="27.81" lengthAdjust="spacingAndGlyphs">99</text>
</g>
<g transform="translate(1748.84,824.93) rotate(-22.50)">
<text x="-50.33" y="8.81" font-size="25.60" fill="#000" textLength="101.01" lengthAdjust="spacingAndGlyphs">Crossing</text>
</g>
<g transform="translate(1618.97,695.02) rotate(22.50)">
<text x="-13.64" y="8.60" font-size="25.00" fill="#000" textLength="27.81" lengthAdjust="spacingAndGlyphs">46</text>
</g>
<g transform="translate(1565.16,824.93) rotate(22.50)">
<text x="-65.67" y="-8.86" font-size="25.60" fill="#000" textLength="130.91" lengthAdjust="spacingAndGlyphs">Possession</text>
<text x="-70.10" y="26.47" font-size="25.60" fill="#000" textLength="138.03" lengthAdjust="spacingAndGlyphs">Involvement</text>
</g>
<g transform="translate(1491.18,671.88) rotate(67.50)">
<text x="-13.88" y="8.60" font-size="25.00" fill="#000" textLength="27.81" lengthAdjust="spacingAndGlyphs">91</text>
</g>
<g transform="translate(1435.27,695.04) rotate(67.50)">
<text x="-45.76" y="-8.86" font-size="25.60" fill="#000" textLength="91.08" lengthAdjust="spacingAndGlyphs">Passing</text>
<text x="-52.64" y="26.47" font-size="25.60" fill="#000" textLength="105.28" lengthAdjust="spacingAndGlyphs">Accuracy</text>
</g>
<g transform="translate(1627.68,591.05) rotate(292.50)">
<text x="-6.95" y="8.60" font-size="25.00" fill="#000" textLength="13.90" lengthAdjust="spacingAndGlyphs">8</text>
</g>
<g transform="translate(1435.27,511.36) rotate(292.50)">
<text x="-28.70" y="-8.86" font-size="25.60" fill="#000" textLength="56.95" lengthAdjust="spacingAndGlyphs">Long</text>
<text x="-64.24" y="26.47" font-size="25.60" fill="#000" textLength="128.05" lengthAdjust="spacingAndGlyphs">Distribution</text>
</g>
<g transform="translate(1628.51,534.41) rotate(337.50)">
<text x="-13.75" y="8.60" font-size="25.00" fill="#000" textLength="27.81" lengthAdjust="spacingAndGlyphs">32</text>
</g>
<g transform="translate(1565.16,381.47) rotate(337.50)">
<text x="-57.40" y="-8.86" font-size="25.60" fill="#000" textLength="113.84" lengthAdjust="spacingAndGlyphs">Defensive</text>
<text x="-34.77" y="26.47" font-size="25.60" fill="#000" textLength="71.15" lengthAdjust="spacingAndGlyphs">Action</text>
</g>
<text transform="scale(0.7687,1)" x="1964.44" y="965.28" font-size="36.28" font-weight="normal" font-style="normal" fill="#000" letter-spacing="2.391"  stroke="#000" stroke-width="0.51" stroke-linejoin="round">Overall xPAR Percentile</text>
<line x1="1326.50" y1="998.30" x2="2035.20" y2="998.30" stroke="#C9C9C9" stroke-width="1.40" />
<text x="1271.30" y="1006.50" font-size="23.69" font-weight="normal" font-style="normal" fill="#2E2E2E" textLength="39.53" lengthAdjust="spacingAndGlyphs" >100</text>
<line x1="1326.50" y1="1091.60" x2="2035.20" y2="1091.60" stroke="#C9C9C9" stroke-width="1.40" />
<text x="1284.54" y="1099.80" font-size="23.69" font-weight="normal" font-style="normal" fill="#2E2E2E" textLength="26.35" lengthAdjust="spacingAndGlyphs" >75</text>
<line x1="1326.50" y1="1184.90" x2="2035.20" y2="1184.90" stroke="#C9C9C9" stroke-width="1.40" />
<text x="1284.47" y="1193.10" font-size="23.69" font-weight="normal" font-style="normal" fill="#2E2E2E" textLength="26.35" lengthAdjust="spacingAndGlyphs" >50</text>
<line x1="1326.50" y1="1278.10" x2="2035.20" y2="1278.10" stroke="#C9C9C9" stroke-width="1.40" />
<text x="1284.54" y="1286.30" font-size="23.69" font-weight="normal" font-style="normal" fill="#2E2E2E" textLength="26.35" lengthAdjust="spacingAndGlyphs" >25</text>
<line x1="1326.50" y1="1371.30" x2="2035.20" y2="1371.30" stroke="#000" stroke-width="3.60" />
<text x="1297.65" y="1379.50" font-size="23.69" font-weight="normal" font-style="normal" fill="#2E2E2E" textLength="13.18" lengthAdjust="spacingAndGlyphs" >0</text>
<text x="1363.36" y="1403.30" font-size="23.69" font-weight="normal" font-style="normal" fill="#2E2E2E" textLength="60.60" lengthAdjust="spacingAndGlyphs" >18-19</text>
<text x="1477.76" y="1403.30" font-size="23.69" font-weight="normal" font-style="normal" fill="#2E2E2E" textLength="60.60" lengthAdjust="spacingAndGlyphs" >19-20</text>
<text x="1592.68" y="1403.30" font-size="23.69" font-weight="normal" font-style="normal" fill="#2E2E2E" textLength="60.60" lengthAdjust="spacingAndGlyphs" >20-21</text>
<text x="1707.20" y="1403.30" font-size="23.69" font-weight="normal" font-style="normal" fill="#2E2E2E" textLength="60.60" lengthAdjust="spacingAndGlyphs" >21-22</text>
<text x="1821.63" y="1403.30" font-size="23.69" font-weight="normal" font-style="normal" fill="#2E2E2E" textLength="60.60" lengthAdjust="spacingAndGlyphs" >22-23</text>
<text x="1935.95" y="1403.30" font-size="23.69" font-weight="normal" font-style="normal" fill="#2E2E2E" textLength="60.60" lengthAdjust="spacingAndGlyphs" >23-24</text>
<line x1="1852.00" y1="1243.36" x2="1966.50" y2="1214.64" stroke="#000" stroke-width="6.20" />
<circle cx="1852.00" cy="1243.36" r="7.30" fill="#000"/>
<circle cx="1966.50" cy="1214.64" r="7.30" fill="#000"/>
<text transform="scale(0.7922,1)" x="1755.90" y="1488.88" font-size="36.28" font-weight="normal" font-style="normal" fill="#0000E6" letter-spacing="2.811"  stroke="#0000E6" stroke-width="0.50" stroke-linejoin="round">Offense</text>
<text transform="scale(0.7718,1)" x="1989.65" y="1488.88" font-size="36.28" font-weight="normal" font-style="normal" fill="#000" letter-spacing="4.751"  stroke="#000" stroke-width="0.50" stroke-linejoin="round">vs</text>
<text transform="scale(0.7777,1)" x="2043.22" y="1488.88" font-size="36.28" font-weight="normal" font-style="normal" fill="#E8101C" letter-spacing="2.966"  stroke="#E8101C" stroke-width="0.50" stroke-linejoin="round">Defense</text>
<text transform="scale(0.7693,1)" x="2255.52" y="1488.88" font-size="36.28" font-weight="normal" font-style="normal" fill="#000" letter-spacing="4.751"  stroke="#000" stroke-width="0.51" stroke-linejoin="round">vs</text>
<text transform="scale(0.8083,1)" x="2210.44" y="1488.88" font-size="36.28" font-weight="normal" font-style="normal" fill="#7EC3E3" letter-spacing="2.384"  stroke="#7EC3E3" stroke-width="0.49" stroke-linejoin="round">Finishing</text>
<line x1="1326.50" y1="1522.60" x2="2035.20" y2="1522.60" stroke="#C9C9C9" stroke-width="1.40" />
<text x="1271.30" y="1530.80" font-size="23.69" font-weight="normal" font-style="normal" fill="#2E2E2E" textLength="39.53" lengthAdjust="spacingAndGlyphs" >100</text>
<line x1="1326.50" y1="1614.50" x2="2035.20" y2="1614.50" stroke="#C9C9C9" stroke-width="1.40" />
<text x="1284.54" y="1622.70" font-size="23.69" font-weight="normal" font-style="normal" fill="#2E2E2E" textLength="26.35" lengthAdjust="spacingAndGlyphs" >75</text>
<line x1="1326.50" y1="1706.40" x2="2035.20" y2="1706.40" stroke="#C9C9C9" stroke-width="1.40" />
<text x="1284.47" y="1714.60" font-size="23.69" font-weight="normal" font-style="normal" fill="#2E2E2E" textLength="26.35" lengthAdjust="spacingAndGlyphs" >50</text>
<line x1="1326.50" y1="1798.30" x2="2035.20" y2="1798.30" stroke="#C9C9C9" stroke-width="1.40" />
<text x="1284.54" y="1806.50" font-size="23.69" font-weight="normal" font-style="normal" fill="#2E2E2E" textLength="26.35" lengthAdjust="spacingAndGlyphs" >25</text>
<line x1="1326.50" y1="1890.20" x2="2035.20" y2="1890.20" stroke="#000" stroke-width="3.60" />
<text x="1297.65" y="1898.40" font-size="23.69" font-weight="normal" font-style="normal" fill="#2E2E2E" textLength="13.18" lengthAdjust="spacingAndGlyphs" >0</text>
<text x="1363.36" y="1920.00" font-size="23.69" font-weight="normal" font-style="normal" fill="#2E2E2E" textLength="60.60" lengthAdjust="spacingAndGlyphs" >18-19</text>
<text x="1477.76" y="1920.00" font-size="23.69" font-weight="normal" font-style="normal" fill="#2E2E2E" textLength="60.60" lengthAdjust="spacingAndGlyphs" >19-20</text>
<text x="1592.68" y="1920.00" font-size="23.69" font-weight="normal" font-style="normal" fill="#2E2E2E" textLength="60.60" lengthAdjust="spacingAndGlyphs" >20-21</text>
<text x="1707.20" y="1920.00" font-size="23.69" font-weight="normal" font-style="normal" fill="#2E2E2E" textLength="60.60" lengthAdjust="spacingAndGlyphs" >21-22</text>
<text x="1821.63" y="1920.00" font-size="23.69" font-weight="normal" font-style="normal" fill="#2E2E2E" textLength="60.60" lengthAdjust="spacingAndGlyphs" >22-23</text>
<text x="1935.95" y="1920.00" font-size="23.69" font-weight="normal" font-style="normal" fill="#2E2E2E" textLength="60.60" lengthAdjust="spacingAndGlyphs" >23-24</text>
<line x1="1852.00" y1="1798.30" x2="1966.50" y2="1776.24" stroke="#0000E6" stroke-width="6.40" />
<circle cx="1852.00" cy="1798.30" r="7.60" fill="#0000E6"/>
<circle cx="1966.50" cy="1776.24" r="7.60" fill="#0000E6"/>
<line x1="1852.00" y1="1728.46" x2="1966.50" y2="1673.32" stroke="#F80000" stroke-width="6.40" />
<circle cx="1852.00" cy="1728.46" r="7.60" fill="#F80000"/>
<circle cx="1966.50" cy="1673.32" r="7.60" fill="#F80000"/>
<line x1="1852.00" y1="1529.95" x2="1966.50" y2="1809.33" stroke="#7EC1E2" stroke-width="5.60" />
<circle cx="1852.00" cy="1529.95" r="7.60" fill="#7EC1E2"/>
<circle cx="1966.50" cy="1809.33" r="7.60" fill="#7EC1E2"/>
<text transform="scale(0.7828,1)" x="3174.85" y="291.98" font-size="36.28" font-weight="normal" font-style="normal" fill="#000" letter-spacing="2.475"  stroke="#000" stroke-width="0.50" stroke-linejoin="round">Style Trend</text>
<line x1="2151.80" y1="355.20" x2="2984.20" y2="355.20" stroke="#C9C9C9" stroke-width="1.40" />
<text x="2098.60" y="363.40" font-size="23.69" font-weight="normal" font-style="normal" fill="#2E2E2E" textLength="39.53" lengthAdjust="spacingAndGlyphs" >100</text>
<line x1="2151.80" y1="606.60" x2="2984.20" y2="606.60" stroke="#C9C9C9" stroke-width="1.40" />
<text x="2111.84" y="614.80" font-size="23.69" font-weight="normal" font-style="normal" fill="#2E2E2E" textLength="26.35" lengthAdjust="spacingAndGlyphs" >75</text>
<line x1="2151.80" y1="858.00" x2="2984.20" y2="858.00" stroke="#C9C9C9" stroke-width="1.40" />
<text x="2111.77" y="866.20" font-size="23.69" font-weight="normal" font-style="normal" fill="#2E2E2E" textLength="26.35" lengthAdjust="spacingAndGlyphs" >50</text>
<line x1="2151.80" y1="1109.30" x2="2984.20" y2="1109.30" stroke="#C9C9C9" stroke-width="1.40" />
<text x="2111.84" y="1117.50" font-size="23.69" font-weight="normal" font-style="normal" fill="#2E2E2E" textLength="26.35" lengthAdjust="spacingAndGlyphs" >25</text>
<line x1="2151.80" y1="1360.70" x2="2984.20" y2="1360.70" stroke="#000" stroke-width="3.60" />
<text x="2124.95" y="1368.90" font-size="23.69" font-weight="normal" font-style="normal" fill="#2E2E2E" textLength="13.18" lengthAdjust="spacingAndGlyphs" >0</text>
<text x="2145.70" y="1397.00" font-size="23.69" font-weight="normal" font-style="normal" fill="#2E2E2E" textLength="60.60" lengthAdjust="spacingAndGlyphs" >21-22</text>
<text x="2390.53" y="1397.00" font-size="23.69" font-weight="normal" font-style="normal" fill="#2E2E2E" textLength="60.60" lengthAdjust="spacingAndGlyphs" >22-23</text>
<text x="2635.25" y="1397.00" font-size="23.69" font-weight="normal" font-style="normal" fill="#2E2E2E" textLength="60.60" lengthAdjust="spacingAndGlyphs" >23-24</text>
<line x1="2665.80" y1="898.40" x2="2699.20" y2="898.40" stroke="#9E6F2C" stroke-width="3.00" />
<line x1="2665.80" y1="1039.00" x2="2776.80" y2="1039.00" stroke="#6356A8" stroke-width="3.00" />
<line x1="2665.80" y1="1280.20" x2="2776.80" y2="1280.20" stroke="#5B9C1C" stroke-width="3.00" />
<line x1="2665.80" y1="445.70" x2="2766.20" y2="505.20" stroke="#E0A500" stroke-width="3.00" />
<line x1="2665.80" y1="367.00" x2="2854.30" y2="390.80" stroke="#D4500E" stroke-width="3.00" />
<line x1="2665.80" y1="486.20" x2="2870.70" y2="562.40" stroke="#505050" stroke-width="3.00" />
<line x1="2665.80" y1="364.50" x2="2856.10" y2="334.50" stroke="#737373" stroke-width="3.00" />
<line x1="2665.80" y1="365.00" x2="2856.50" y2="447.10" stroke="#1B8E6C" stroke-width="3.00" />
<line x1="2420.90" y1="546.70" x2="2665.80" y2="364.50" stroke="#737373" stroke-width="6.20" />
<line x1="2420.90" y1="616.80" x2="2665.80" y2="365.00" stroke="#1B8E6C" stroke-width="6.20" />
<line x1="2420.90" y1="1089.50" x2="2665.80" y2="1280.20" stroke="#5B9C1C" stroke-width="6.20" />
<line x1="2420.90" y1="707.30" x2="2665.80" y2="445.70" stroke="#E0A500" stroke-width="6.20" />
<line x1="2420.90" y1="968.10" x2="2665.80" y2="898.40" stroke="#EEE9E1" stroke-width="6.20" />
<line x1="2420.90" y1="687.30" x2="2665.80" y2="486.20" stroke="#505050" stroke-width="6.20" />
<line x1="2420.90" y1="746.90" x2="2665.80" y2="367.00" stroke="#D4500E" stroke-width="6.20" />
<line x1="2420.90" y1="677.20" x2="2665.80" y2="1039.00" stroke="#6356A8" stroke-width="6.20" />
<circle cx="2420.90" cy="546.70" r="7.30" fill="#737373"/>
<circle cx="2665.80" cy="364.50" r="7.30" fill="#737373"/>
<circle cx="2420.90" cy="746.90" r="7.30" fill="#D4500E"/>
<circle cx="2665.80" cy="367.00" r="7.30" fill="#D4500E"/>
<circle cx="2420.90" cy="1089.50" r="7.30" fill="#5B9C1C"/>
<circle cx="2665.80" cy="1280.20" r="7.30" fill="#5B9C1C"/>
<circle cx="2420.90" cy="707.30" r="7.30" fill="#E0A500"/>
<circle cx="2665.80" cy="445.70" r="7.30" fill="#E0A500"/>
<circle cx="2420.90" cy="968.10" r="7.30" fill="#EEE9E1"/>
<circle cx="2665.80" cy="898.40" r="7.30" fill="#EEE9E1"/>
<circle cx="2420.90" cy="687.30" r="7.30" fill="#505050"/>
<circle cx="2665.80" cy="486.20" r="7.30" fill="#505050"/>
<circle cx="2420.90" cy="616.80" r="7.30" fill="#1B8E6C"/>
<circle cx="2665.80" cy="365.00" r="7.30" fill="#1B8E6C"/>
<circle cx="2420.90" cy="677.20" r="7.30" fill="#6356A8"/>
<circle cx="2665.80" cy="1039.00" r="7.30" fill="#6356A8"/>
<rect x="2699.90" y="880.30" width="273.90" height="36.20" fill="#fff" stroke="#A0722E" stroke-width="1.40" rx="5.00" />
<text x="2709.27" y="906.50" font-size="23.55" font-weight="normal" font-style="normal" fill="#9E6F2C" textLength="253.41" lengthAdjust="spacingAndGlyphs" >Possession Involvement</text>
<rect x="2777.50" y="1021.40" width="196.30" height="35.70" fill="#fff" stroke="#6356A8" stroke-width="1.40" rx="5.00" />
<text x="2787.28" y="1047.35" font-size="23.55" font-weight="normal" font-style="normal" fill="#6356A8" textLength="176.34" lengthAdjust="spacingAndGlyphs" >Defensive Action</text>
<rect x="2777.50" y="1262.90" width="196.30" height="35.30" fill="#fff" stroke="#5B9C1C" stroke-width="1.40" rx="5.00" />
<text x="2787.27" y="1288.65" font-size="23.55" font-weight="normal" font-style="normal" fill="#5B9C1C" textLength="176.35" lengthAdjust="spacingAndGlyphs" >Long Distribution</text>
<rect x="2766.90" y="488.10" width="207.10" height="35.50" fill="#fff" stroke="#E0A500" stroke-width="1.40" rx="5.00" />
<text x="2776.12" y="513.95" font-size="23.55" font-weight="normal" font-style="normal" fill="#D9A22A" textLength="186.77" lengthAdjust="spacingAndGlyphs" >Passing Accuracy</text>
<rect x="2855.00" y="374.30" width="112.50" height="35.20" fill="#fff" stroke="#D4500E" stroke-width="1.40" rx="5.00" />
<text x="2865.05" y="400.00" font-size="23.55" font-weight="normal" font-style="normal" fill="#D0521C" textLength="92.73" lengthAdjust="spacingAndGlyphs" >Crossing</text>
<rect x="2871.40" y="545.00" width="79.40" height="35.40" fill="#fff" stroke="#505050" stroke-width="1.40" rx="5.00" />
<text x="2880.94" y="570.80" font-size="23.55" font-weight="normal" font-style="normal" fill="#4A4A4A" textLength="60.09" lengthAdjust="spacingAndGlyphs" >Shots</text>
<rect x="2857.20" y="317.00" width="108.50" height="35.90" fill="#fff" stroke="#737373" stroke-width="1.40" rx="5.00" />
<text x="2867.21" y="343.05" font-size="23.55" font-weight="normal" font-style="normal" fill="#6E6E6E" textLength="88.80" lengthAdjust="spacingAndGlyphs" >Carrying</text>
<rect x="2857.20" y="431.10" width="108.50" height="35.30" fill="#fff" stroke="#1B8E6C" stroke-width="1.40" rx="5.00" />
<text x="2867.20" y="456.85" font-size="23.55" font-weight="normal" font-style="normal" fill="#1E8A6C" textLength="88.82" lengthAdjust="spacingAndGlyphs" >Creation</text>
<text transform="scale(0.7947,1)" x="3198.78" y="1483.98" font-size="35.70" font-weight="normal" font-style="normal" fill="#000" letter-spacing="2.291"  stroke="#000" stroke-width="0.49" stroke-linejoin="round">Similar Players</text>
<rect x="2346.40" y="1527.60" width="546.40" height="42.40" fill="#FC7F88" stroke="#000" stroke-width="2.80" rx="0.00" />
<rect x="2854.80" y="1532.30" width="75.70" height="33.20" fill="#fff" stroke="#111" stroke-width="1.60" rx="4.50" />
<text x="2864.61" y="1555.80" font-size="19.77" font-weight="normal" font-style="normal" fill="#000" textLength="56.05" lengthAdjust="spacingAndGlyphs" >98.9%</text>
<text transform="scale(0.7611,1)" x="2792.14" y="1544.73" font-size="27.99" font-weight="normal" font-style="normal" fill="#000" letter-spacing="2.294"  stroke="#000" stroke-width="0.39" stroke-linejoin="round">Mamady Bangre</text>
<text transform="scale(0.7776,1)" x="2808.69" y="1574.73" font-size="27.99" font-weight="normal" font-style="normal" fill="#000" letter-spacing="1.975"  stroke="#000" stroke-width="0.39" stroke-linejoin="round">(Toulouse)</text>
<rect x="2346.40" y="1612.05" width="543.50" height="42.40" fill="#FC7F88" stroke="#000" stroke-width="2.80" rx="0.00" />
<rect x="2851.90" y="1616.75" width="75.70" height="33.20" fill="#fff" stroke="#111" stroke-width="1.60" rx="4.50" />
<text x="2861.71" y="1640.25" font-size="19.77" font-weight="normal" font-style="normal" fill="#000" textLength="56.05" lengthAdjust="spacingAndGlyphs" >98.4%</text>
<text transform="scale(0.7761,1)" x="2802.19" y="1629.13" font-size="27.99" font-weight="normal" font-style="normal" fill="#000" letter-spacing="1.752"  stroke="#000" stroke-width="0.39" stroke-linejoin="round">Ivan Perisic</text>
<text transform="scale(0.7824,1)" x="2769.30" y="1659.13" font-size="27.99" font-weight="normal" font-style="normal" fill="#000" letter-spacing="2.032"  stroke="#000" stroke-width="0.39" stroke-linejoin="round">(Tottenham)</text>
<rect x="2346.40" y="1696.50" width="542.60" height="42.40" fill="#FC7F88" stroke="#000" stroke-width="2.80" rx="0.00" />
<rect x="2851.50" y="1701.20" width="75.30" height="33.20" fill="#fff" stroke="#111" stroke-width="1.60" rx="4.50" />
<text x="2861.11" y="1724.70" font-size="19.77" font-weight="normal" font-style="normal" fill="#000" textLength="56.05" lengthAdjust="spacingAndGlyphs" >98.3%</text>
<text transform="scale(0.7635,1)" x="2785.06" y="1713.53" font-size="27.99" font-weight="normal" font-style="normal" fill="#000" letter-spacing="2.095"  stroke="#000" stroke-width="0.39" stroke-linejoin="round">Kingsley Coman</text>
<text transform="scale(0.7675,1)" x="2766.45" y="1743.53" font-size="27.99" font-weight="normal" font-style="normal" fill="#000" letter-spacing="1.966"  stroke="#000" stroke-width="0.39" stroke-linejoin="round">(Bayern Munich)</text>
<rect x="2346.40" y="1780.95" width="540.60" height="42.40" fill="#FC7F88" stroke="#000" stroke-width="2.80" rx="0.00" />
<rect x="2849.40" y="1785.65" width="75.30" height="33.20" fill="#fff" stroke="#111" stroke-width="1.60" rx="4.50" />
<text x="2859.01" y="1809.15" font-size="19.77" font-weight="normal" font-style="normal" fill="#000" textLength="56.05" lengthAdjust="spacingAndGlyphs" >97.9%</text>
<text transform="scale(0.7504,1)" x="2794.24" y="1797.93" font-size="27.99" font-weight="normal" font-style="normal" fill="#000" letter-spacing="2.324"  stroke="#000" stroke-width="0.39" stroke-linejoin="round">Ousmane Dembele</text>
<text transform="scale(0.7174,1)" x="3120.67" y="1827.93" font-size="27.99" font-weight="normal" font-style="normal" fill="#000" letter-spacing="2.532"  stroke="#000" stroke-width="0.40" stroke-linejoin="round">(PSG)</text>
<rect x="2346.40" y="1865.40" width="539.30" height="42.40" fill="#FC7F88" stroke="#000" stroke-width="2.80" rx="0.00" />
<rect x="2847.70" y="1870.10" width="74.90" height="33.20" fill="#fff" stroke="#111" stroke-width="1.60" rx="4.50" />
<text x="2857.11" y="1893.60" font-size="19.77" font-weight="normal" font-style="normal" fill="#000" textLength="56.05" lengthAdjust="spacingAndGlyphs" >97.6%</text>
<text transform="scale(0.7434,1)" x="2934.68" y="1882.33" font-size="27.99" font-weight="normal" font-style="normal" fill="#000" letter-spacing="2.116"  stroke="#000" stroke-width="0.40" stroke-linejoin="round">Leroy Sane</text>
<text transform="scale(0.7675,1)" x="2766.45" y="1912.33" font-size="27.99" font-weight="normal" font-style="normal" fill="#000" letter-spacing="1.966"  stroke="#000" stroke-width="0.39" stroke-linejoin="round">(Bayern Munich)</text>
<text transform="scale(0.7026,1)" x="86.11" y="1990.62" font-size="29.42" font-weight="normal" font-style="italic" fill="#111" letter-spacing="1.896"  stroke="#111" stroke-width="0.43" stroke-linejoin="round">Source: Understat, Opta via FBref</text>
<text transform="scale(0.7188,1)" x="84.07" y="2030.58" font-size="29.42" font-weight="normal" font-style="italic" fill="#111" letter-spacing="1.807"  stroke="#111" stroke-width="0.42" stroke-linejoin="round">Notes: Created by @macro_football on 2024-06-01. All percentiles and metrics are relative to all players in the top 5 European leagues. Overall is the player's expected points above replacement (xPAR) percentile. Offense and Defense Impact percentiles and Z-Scores are</text>
<text transform="scale(0.7174,1)" x="83.80" y="2070.54" font-size="29.42" font-weight="normal" font-style="italic" fill="#111" letter-spacing="1.788"  stroke="#111" stroke-width="0.42" stroke-linejoin="round">the player's isolated impact on xGF and xGA (or GF and GA) per 90, controlling for teammates, opposition players, managers, score, situation, etc..., scaled relative to European Top 5 League average. Finishing (or Saving) Impact percentiles and Z-Scores are the player's</text>
<text transform="scale(0.7200,1)" x="84.36" y="2110.50" font-size="29.42" font-weight="normal" font-style="italic" fill="#111" letter-spacing="1.758"  stroke="#111" stroke-width="0.42" stroke-linejoin="round">impact on shot xG, relative to European Top 5 League average. Shot (or xG) Share is the share of the team's shots (or xG) that the player takes when on the field. Usage is the share of the team's xG that the player is responsible for when on the field via either shots or shot</text>
<text transform="scale(0.7305,1)" x="82.95" y="2150.46" font-size="29.42" font-weight="normal" font-style="italic" fill="#111" letter-spacing="1.706"  stroke="#111" stroke-width="0.42" stroke-linejoin="round">assists. Individual characteristics (i.e. dribbling and creating) are based on a dimensionality reduction of each player's micro-statistics (i.e. short pass attempts and interceptions). Player types (i.e. ball-playing defender) are based on a clustering analysis of every player's</text>
<text transform="scale(0.7305,1)" x="83.14" y="2190.42" font-size="29.42" font-weight="normal" font-style="italic" fill="#111" letter-spacing="1.738"  stroke="#111" stroke-width="0.42" stroke-linejoin="round">individual characteristics. Player similarity scores are based on the same clustering analysis.</text>
</svg></body></html>
